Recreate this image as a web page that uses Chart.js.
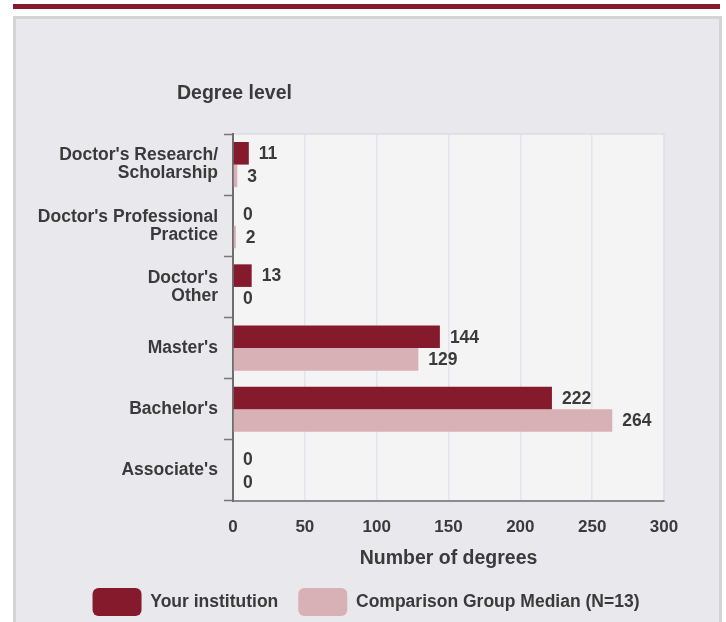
<!DOCTYPE html>
<html>
<head>
<meta charset="utf-8">
<script src="https://cdn.jsdelivr.net/npm/chart.js@4/dist/chart.umd.min.js"></script>
<style>
  html, body { margin: 0; padding: 0; background: #ffffff; overflow: hidden; width: 726px; height: 622px; }
  #topbar { position: absolute; left: 13px; top: 4px; width: 707px; height: 5px; background: #861a2d; }
  #panel { position: absolute; left: 13px; top: 16px; width: 703px; height: 620px; background: #e9e9ed; border: 3px solid #d3d4d3; }
  #wrap { position: absolute; left: 0; top: 0; width: 726px; height: 626px; }
</style>
</head>
<body>
<div id="topbar"></div>
<div id="panel"></div>
<div id="wrap"><canvas id="c" width="726" height="626"></canvas></div>
<script>
const categories = [
  ["Doctor's Research/", "Scholarship"],
  ["Doctor's Professional", "Practice"],
  ["Doctor's", "Other"],
  ["Master's"],
  ["Bachelor's"],
  ["Associate's"]
];
const yourInstitution = [11, 0, 13, 144, 222, 0];
const comparisonMedian = [3, 2, 0, 129, 264, 0];
const xTicks = [0, 50, 100, 150, 200, 250, 300];
const seriesNames = ["Your institution", "Comparison Group Median (N=13)"];
const axisTitleY = "Degree level";
const axisTitleX = "Number of degrees";

const FONT = "'Liberation Sans', Arial, Helvetica, sans-serif";
const TEXT = '#3a3a3a';

const decor = {
  id: 'decor',
  afterLayout(chart) {
    // shift the legend's band so its centred row lines up with the reference
    if (chart.legend) { chart.legend.left = 68; }
  },
  beforeDraw(chart) {
    const {ctx, chartArea: a} = chart;
    ctx.save();
    ctx.fillStyle = '#f4f4f4';
    ctx.fillRect(a.left, a.top, a.right - a.left, a.bottom - a.top);
    ctx.strokeStyle = '#dcdde0';
    ctx.lineWidth = 1.5;
    ctx.beginPath();
    ctx.moveTo(a.left, a.top); ctx.lineTo(a.right, a.top); ctx.lineTo(a.right, a.bottom);
    ctx.stroke();
    ctx.restore();
  },
  afterDatasetsDraw(chart) {
    const {ctx, chartArea: a} = chart;
    ctx.save();
    ctx.fillStyle = TEXT;
    ctx.font = "bold 17.5px " + FONT;
    ctx.textAlign = 'left';
    ctx.textBaseline = 'middle';
    chart.data.datasets.forEach((ds, di) => {
      const meta = chart.getDatasetMeta(di);
      meta.data.forEach((bar, i) => {
        ctx.fillText(String(ds.data[i]), bar.x + 10, bar.y + 1);
      });
    });
    ctx.font = "bold 19.5px " + FONT;
    ctx.fillText(axisTitleY, a.left - 56, 94);
    ctx.restore();
  }
};

new Chart(document.getElementById('c'), {
  type: 'bar',
  data: {
    labels: categories,
    datasets: [
      { label: seriesNames[0], data: yourInstitution, backgroundColor: '#841a2c', borderWidth: 0,
        categoryPercentage: 0.738, barPercentage: 1.0 },
      { label: seriesNames[1], data: comparisonMedian, backgroundColor: '#d8b1b6', borderWidth: 0,
        categoryPercentage: 0.738, barPercentage: 1.0 }
    ]
  },
  options: {
    indexAxis: 'y',
    responsive: false,
    animation: false,
    layout: { padding: { left: 0, right: 62, top: 134, bottom: 0 } },
    scales: {
      x: {
        min: 0, max: 300,
        afterBuildTicks(s) { s.ticks = xTicks.map(v => ({ value: v })); },
        afterFit(s) { s.height = 67; },
        grid: { color: '#dfe4ee', lineWidth: 1.5, drawTicks: false, tickLength: 0 },
        border: { display: true, color: '#8c8c8c', width: 2 },
        ticks: { color: TEXT, font: { family: FONT, size: 17, weight: 'bold' }, padding: 16 },
        title: { display: true, text: axisTitleX, color: TEXT,
                 font: { family: FONT, size: 19.5, weight: 'bold', lineHeight: 1 },
                 padding: { top: 8, bottom: 0 } }
      },
      y: {
        afterFit(s) { s.width = 233; },
        grid: { drawOnChartArea: false, drawTicks: true, tickLength: 9, tickColor: '#777777', tickWidth: 1.5 },
        border: { display: true, color: '#6e6e6e', width: 2 },
        ticks: { color: TEXT, font: { family: FONT, size: 17.5, weight: 'bold', lineHeight: 1.03 }, padding: 6 }
      }
    },
    plugins: {
      legend: {
        position: 'bottom',
        labels: {
          boxWidth: 49, boxHeight: 28, padding: 20, color: TEXT,
          font: { family: FONT, size: 17.5, weight: 'bold' },
          generateLabels(chart) {
            return chart.data.datasets.map((ds, i) => ({
              text: ds.label, fillStyle: ds.backgroundColor, strokeStyle: ds.backgroundColor,
              lineWidth: 0, borderRadius: 6, hidden: false, datasetIndex: i, fontColor: TEXT
            }));
          }
        }
      },
      tooltip: { enabled: false },
      title: { display: false }
    }
  },
  plugins: [decor]
});
</script>
</body>
</html>
